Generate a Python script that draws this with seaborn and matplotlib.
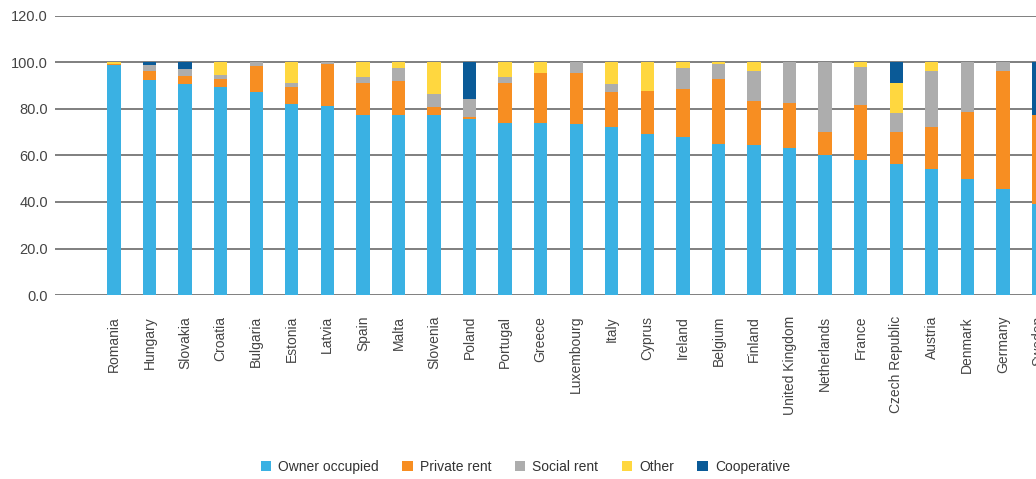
import numpy as np
import pandas as pd
import seaborn as sns
import matplotlib.pyplot as plt
from matplotlib.patches import Patch

countries = ["Romania", "Hungary", "Slovakia", "Croatia", "Bulgaria", "Estonia", "Latvia",
             "Spain", "Malta", "Slovenia", "Poland", "Portugal", "Greece", "Luxembourg",
             "Italy", "Cyprus", "Ireland", "Belgium", "Finland", "United Kingdom",
             "Netherlands", "France", "Czech Republic", "Austria", "Denmark", "Germany", "Sweden"]

owner_occupied = [98.8, 92.4, 90.5, 89.4, 87.4, 81.9, 81.4, 77.5, 77.5, 77.5, 75.8, 74.1, 74.1,
                  73.5, 72.4, 69.0, 67.9, 64.9, 64.3, 63.2, 60.3, 57.9, 56.3, 54.0, 49.9, 45.4, 39.3]
private_rent = [0.4, 4.0, 3.6, 3.5, 10.9, 7.5, 17.9, 13.8, 14.5, 3.2, 0.6, 17.2, 21.2,
                21.9, 15.0, 18.8, 20.5, 28.1, 18.9, 19.5, 9.9, 23.6, 13.9, 18.4, 28.8, 51.0, 38.2]
social_rent = [0.0, 2.5, 2.9, 1.8, 1.7, 1.9, 0.7, 2.3, 5.6, 5.5, 8.0, 2.3, 0.0,
               4.6, 3.1, 0.0, 9.0, 6.3, 13.2, 17.3, 29.8, 16.7, 7.9, 24.0, 21.3, 3.6, 0.0]
other = [0.8, 0.0, 0.0, 5.3, 0.0, 8.7, 0.0, 6.4, 2.4, 13.8, 0.0, 6.4, 4.7,
         0.0, 9.5, 12.2, 2.6, 0.7, 3.6, 0.0, 0.0, 1.8, 13.2, 3.6, 0.0, 0.0, 0.0]
cooperative = [0.0, 1.1, 3.0, 0.0, 0.0, 0.0, 0.0, 0.0, 0.0, 0.0, 15.6, 0.0, 0.0,
               0.0, 0.0, 0.0, 0.0, 0.0, 0.0, 0.0, 0.0, 0.0, 8.7, 0.0, 0.0, 0.0, 22.5]

series = ["Owner occupied", "Private rent", "Social rent", "Other", "Cooperative"]
colors = ["#3AB1E3", "#F78E22", "#ADADAD", "#FFD73F", "#0A5A97"]

wide = pd.DataFrame({"country": countries, "Owner occupied": owner_occupied,
                     "Private rent": private_rent, "Social rent": social_rent,
                     "Other": other, "Cooperative": cooperative})
cum = wide[series].cumsum(axis=1)
cum["country"] = countries
df = cum.melt(id_vars="country", var_name="series", value_name="cum")

sns.set_style("white")
plt.rcParams['font.family'] = ['Liberation Sans', 'DejaVu Sans']

fig, ax = plt.subplots(figsize=(10.36, 4.79), dpi=100)
fig.subplots_adjust(left=0.053, right=1.0, bottom=0.384, top=0.967)

ax.set_axisbelow(True)
ax.yaxis.grid(True, color="#6a6a6a", linewidth=1.2)

# stacked look: draw cumulative totals, top layer first
for s, c in reversed(list(zip(series, colors))):
    sns.barplot(data=df[df["series"] == s], x="country", y="cum", order=countries,
                color=c, width=0.375, linewidth=0, saturation=1, errorbar=None, ax=ax)

ax.set_ylim(0, 120)
ax.set_yticks(np.arange(0, 121, 20))
ax.set_yticklabels([f"{v:.1f}" for v in np.arange(0, 121, 20)])
ax.set_xlim(-1.66, 25.93)
ax.set_xlabel("")
ax.set_ylabel("")
sns.despine(ax=ax, left=True, bottom=True, top=True, right=True)

ax.tick_params(axis="x", length=0, pad=15, labelsize=10, labelcolor="#444444", rotation=90)
ax.tick_params(axis="y", length=0, pad=5, labelsize=10.5, labelcolor="#444444")

# last country sits past the cut-off edge, its label is only partly visible
ax.annotate(countries[-1], xy=(len(countries) - 1, 0), xycoords=("data", "axes fraction"),
            xytext=(0, -15), textcoords="offset points", rotation=90, ha="center", va="top",
            fontsize=10, color="#444444", annotation_clip=False)

handles = [Patch(facecolor=c, edgecolor="none", label=s) for s, c in zip(series, colors)]
fig.legend(handles=handles, loc="center", bbox_to_anchor=(0.507, 0.025), ncol=5,
           frameon=False, fontsize=10, handlelength=0.75, handleheight=0.75,
           handletextpad=0.5, columnspacing=1.7, labelcolor="#333333")

fig.savefig("out.png", dpi=100)
